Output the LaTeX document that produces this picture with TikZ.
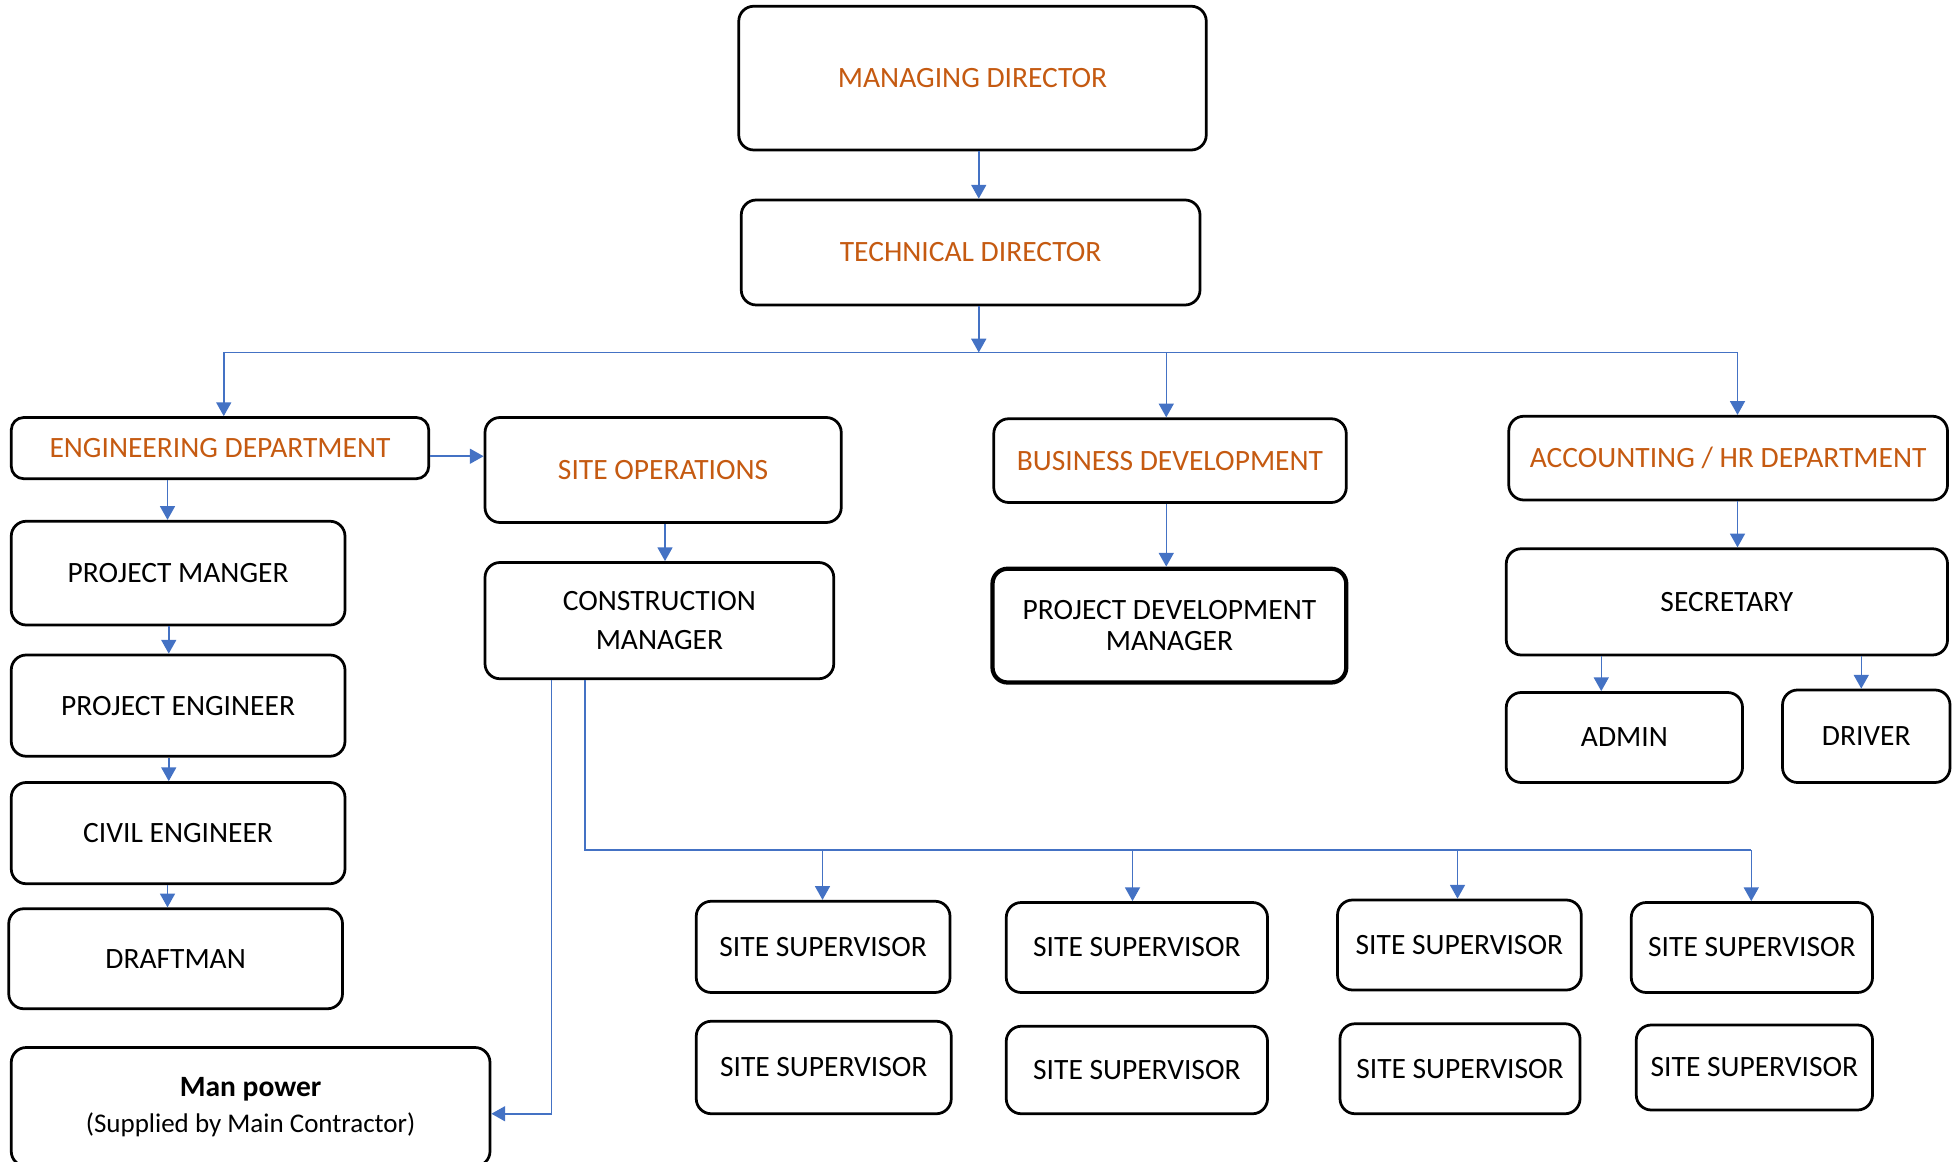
\documentclass[tikz,border=0pt]{standalone}
\usepackage{fontspec}
\setmainfont{Carlito}
\usetikzlibrary{arrows.meta}
\definecolor{orng}{HTML}{C55A11}
\definecolor{conblue}{HTML}{4472C4}
\newcommand\bx[7]{\node[#1, minimum width={(#5-#3)*0.5pt}, minimum height={(#6-#4)*0.5pt}] (#2) at ({(#3+#5)/2},{(#4+#6)/2}) {#7};}
\begin{document}
\begin{tikzpicture}[x=0.5pt,y=-0.5pt,
  box/.style={draw, line width=1.1pt, rounded corners=6pt, inner sep=0pt, align=center,
    font=\fontsize{11.8}{14}\selectfont},
  dept/.style={box, text=orng},
  conn/.style={draw=conblue, line width=0.6pt, -{Triangle[width=6pt,length=5.5pt]}},
  wire/.style={draw=conblue, line width=0.6pt}]
\useasboundingbox (0,0) rectangle (1567.2,929.6);

% top
\bx{dept}{md}{591}{5}{965}{120}{MANAGING DIRECTOR}
\bx{dept}{td}{593}{160}{960}{244}{TECHNICAL DIRECTOR}

% departments
\bx{dept,rounded corners=5pt}{eng}{9}{334}{343}{383}{ENGINEERING DEPARTMENT}
\bx{dept}{so}{388}{334}{673}{418}{SITE OPERATIONS}
\bx{dept}{bd}{795}{335}{1077}{402}{BUSINESS DEVELOPMENT}
\bx{dept}{acc}{1207}{333}{1558}{400}{ACCOUNTING / HR DEPARTMENT}

% engineering column
\bx{box}{pm}{9}{417}{276}{500}{PROJECT MANGER}
\bx{box}{pe}{9}{524}{276}{605}{PROJECT ENGINEER}
\bx{box}{ce}{9}{626}{276}{707}{CIVIL ENGINEER}
\bx{box}{dr}{7}{727}{274}{807}{DRAFTMAN}
\bx{box,font=\fontsize{10.8}{14.5}\selectfont}{mp}{9}{838}{392}{933}{\textbf{\fontsize{11.8}{14.5}\selectfont Man power}\\(Supplied by Main Contractor)}

% site operations
\bx{box,font=\fontsize{11.8}{15.5}\selectfont}{cm}{388}{450}{667}{543}{CONSTRUCTION\\MANAGER}

% business development
\bx{box,line width=1.7pt,font=\fontsize{11.8}{12.5}\selectfont}{pdm}{794}{455}{1077}{546}{PROJECT DEVELOPMENT\\MANAGER}

% accounting
\bx{box}{sec}{1205}{439}{1558}{524}{SECRETARY}
\bx{box}{adm}{1205}{554}{1394}{626}{ADMIN}
\bx{box}{drv}{1426}{552}{1560}{626}{DRIVER}

% supervisors
\bx{box}{ss1}{557}{721}{760}{794}{SITE SUPERVISOR}
\bx{box}{ss2}{805}{722}{1014}{794}{SITE SUPERVISOR}
\bx{box}{ss3}{1070}{720}{1265}{792}{SITE SUPERVISOR}
\bx{box}{ss4}{1305}{722}{1498}{794}{SITE SUPERVISOR}
\bx{box}{ss5}{557}{817}{761}{891}{SITE SUPERVISOR}
\bx{box}{ss6}{805}{821}{1014}{891}{SITE SUPERVISOR}
\bx{box}{ss7}{1072}{819}{1264}{891}{SITE SUPERVISOR}
\bx{box}{ss8}{1309}{820}{1498}{888}{SITE SUPERVISOR}

% coordinates for connector routes
\coordinate (xmd) at (783,0);
\coordinate (bus) at (783,282);
\coordinate (bL) at (179,282);
\coordinate (bM) at (933,282);
\coordinate (bR) at (1390,282);
\coordinate (yeng) at (0,365);
\coordinate (xsoc) at (532,0);
\coordinate (xe1) at (134,0);
\coordinate (xe2) at (135,0);
\coordinate (xe3) at (135,0);
\coordinate (xe4) at (134,0);
\coordinate (xadm) at (1281,0);
\coordinate (xdrv) at (1489,0);
\coordinate (kmp) at (441,891);
\coordinate (sb) at (468,680);
\coordinate (s1) at (658,680);
\coordinate (s2) at (906,680);
\coordinate (s3) at (1166,680);
\coordinate (s4) at (1401,680);

% connectors
\draw[conn] (md.south -| xmd) -- (td.north -| xmd);
\draw[conn] (td.south -| bus) -- (bus);
\draw[wire] (bL) -- (bR);
\draw[conn] (bL) -- (bL |- eng.north);
\draw[conn] (bM) -- (bM |- bd.north);
\draw[conn] (bR) -- (bR |- acc.north);

\draw[conn] (eng.east |- yeng) -- (so.west |- yeng);
\draw[conn] (so.south -| xsoc) -- (cm.north -| xsoc);
\draw[conn] (bd.south -| bM) -- (pdm.north -| bM);
\draw[conn] (acc.south -| bR) -- (sec.north -| bR);
\draw[conn] (sec.south -| xadm) -- (adm.north -| xadm);
\draw[conn] (sec.south -| xdrv) -- (drv.north -| xdrv);

\draw[conn] (eng.south -| xe1) -- (pm.north -| xe1);
\draw[conn] (pm.south -| xe2) -- (pe.north -| xe2);
\draw[conn] (pe.south -| xe3) -- (ce.north -| xe3);
\draw[conn] (ce.south -| xe4) -- (dr.north -| xe4);

\draw[conn] (cm.south -| kmp) |- (mp.east |- kmp);
\draw[wire] (cm.south -| sb) |- (s4);
\draw[conn] (s1) -- (ss1.north -| s1);
\draw[conn] (s2) -- (ss2.north -| s2);
\draw[conn] (s3) -- (ss3.north -| s3);
\draw[conn] (s4) -- (ss4.north -| s4);
\end{tikzpicture}
\end{document}
